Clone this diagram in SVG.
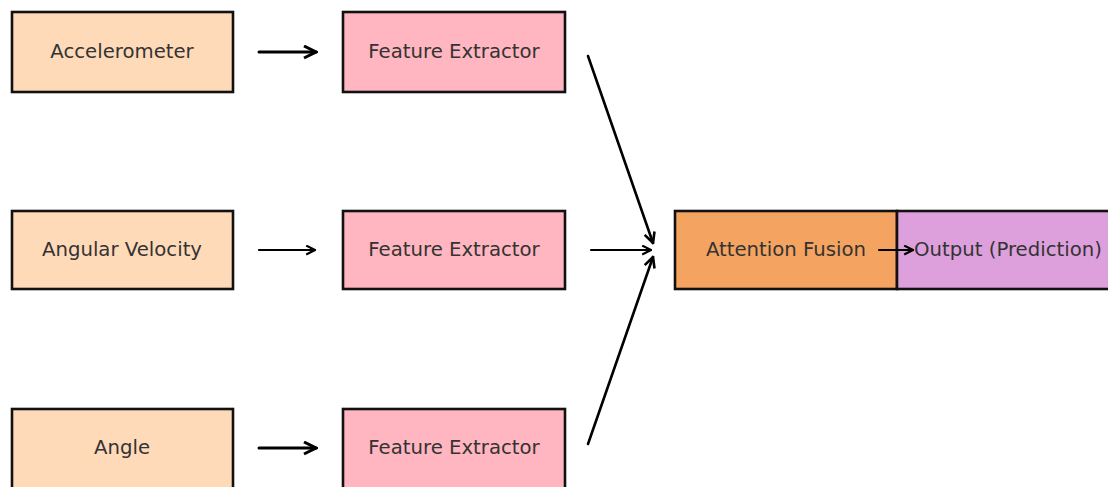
<svg xmlns="http://www.w3.org/2000/svg" width="1108" height="487" viewBox="0 0 1108 487">
<style>
.b{stroke:#111;stroke-width:2.6}
.in{fill:#FFDAB9}.fe{fill:#FFB6C1}.af{fill:#F4A460}.out{fill:#DDA0DD}
text{font-family:"DejaVu Sans",sans-serif;font-size:19.7px;fill:#333;text-anchor:middle;dominant-baseline:central}
.c{stroke:#000;fill:none;stroke-linecap:round}
</style>
<defs>
<marker id="ah" viewBox="0 0 10 10" refX="9" refY="5" markerWidth="5" markerHeight="5" orient="auto" markerUnits="strokeWidth">
<path d="M1,1 L9,5 L1,9" fill="none" stroke="#000" stroke-width="2"/>
</marker>
</defs>
<rect width="1108" height="487" fill="#fff"/>
<g id="n_acc"><rect class="b in" x="12" y="12" width="221" height="80"/><text x="122" y="51">Accelerometer</text></g>
<g id="n_angvel"><rect class="b in" x="12" y="211" width="221" height="78"/><text x="122" y="249">Angular Velocity</text></g>
<g id="n_angle"><rect class="b in" x="12" y="409" width="221" height="90"/><text x="122" y="447">Angle</text></g>
<g id="n_fe1"><rect class="b fe" x="343" y="12" width="222" height="80"/><text x="454" y="51">Feature Extractor</text></g>
<g id="n_fe2"><rect class="b fe" x="343" y="211" width="222" height="78"/><text x="454" y="249">Feature Extractor</text></g>
<g id="n_fe3"><rect class="b fe" x="343" y="409" width="222" height="90"/><text x="454" y="447">Feature Extractor</text></g>
<g id="n_att"><rect class="b af" x="675" y="211" width="222" height="78"/><text x="786" y="249">Attention Fusion</text></g>
<g id="n_out"><rect class="b out" x="897" y="211" width="225" height="78"/><text x="1008" y="249">Output (Prediction)</text></g>
<g id="connectors">
<line class="c" x1="259" y1="52" x2="316" y2="52" stroke-width="3" marker-end="url(#ah)"/>
<line class="c" x1="259" y1="250" x2="315" y2="250" stroke-width="2.2" marker-end="url(#ah)"/>
<line class="c" x1="259" y1="448" x2="316" y2="448" stroke-width="3" marker-end="url(#ah)"/>
<line class="c" x1="588" y1="56" x2="653" y2="243" stroke-width="2.6" marker-end="url(#ah)"/>
<line class="c" x1="591" y1="250" x2="651" y2="250" stroke-width="2.2" marker-end="url(#ah)"/>
<line class="c" x1="588" y1="444" x2="653" y2="257" stroke-width="2.6" marker-end="url(#ah)"/>
<line class="c" x1="879" y1="250" x2="913" y2="250" stroke-width="2.2" marker-end="url(#ah)"/>
</g>
</svg>
